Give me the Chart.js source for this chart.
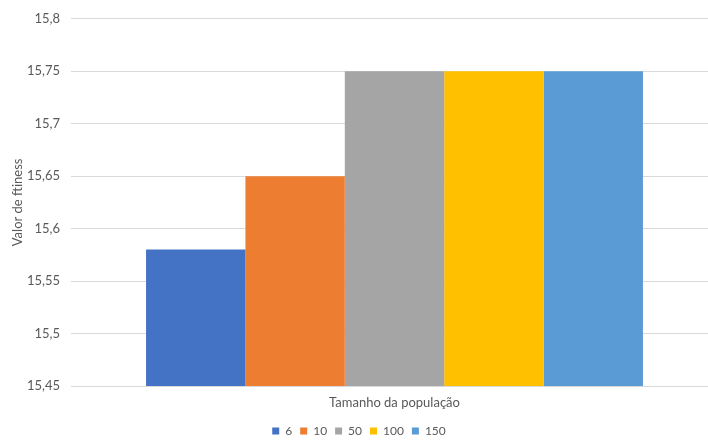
<!DOCTYPE html>
<html>
<head>
<meta charset="utf-8">
<script src="https://cdn.jsdelivr.net/npm/chart.js@4"></script>
<style>
  html, body { margin: 0; padding: 0; background: #fff; overflow: hidden; }
  #wrap { width: 708px; height: 440px; overflow: hidden; }
  canvas { display: block; }
</style>
</head>
<body>
<div id="wrap"><canvas id="c" width="718" height="440"></canvas></div>
<script>
// Population sizes (series) and the best fitness reached for each
const populationSizes = ['6', '10', '50', '100', '150'];
const fitnessValues = [15.58, 15.65, 15.75, 15.75, 15.75];
const seriesColors = ['#4472C4', '#ED7D31', '#A5A5A5', '#FFC000', '#5B9BD5'];
const yTickValues = [15.45, 15.5, 15.55, 15.6, 15.65, 15.7, 15.75, 15.8];
const categories = [''];

const textColor = '#595959';
const fontFamily = 'Lato, "Open Sans", sans-serif';

const datasets = populationSizes.map((name, i) => ({
  label: name,
  data: [fitnessValues[i]],
  backgroundColor: seriesColors[i],
  borderWidth: 0,
  barPercentage: 1.0,
  categoryPercentage: 0.768
}));

new Chart(document.getElementById('c'), {
  type: 'bar',
  data: { labels: categories, datasets },
  options: {
    responsive: false,
    animation: false,
    devicePixelRatio: 1,
    layout: { padding: { left: 0, right: 0, top: 10, bottom: -7 } },
    font: { family: fontFamily, size: 13 },
    plugins: {
      legend: {
        position: 'bottom',
        labels: {
          boxWidth: 7,
          boxHeight: 7,
          color: textColor,
          font: { family: fontFamily, size: 12 },
          padding: 8
        }
      },
      tooltip: { enabled: false }
    },
    scales: {
      x: {
        grid: { display: false, drawTicks: false },
        border: { display: false },
        ticks: { display: false },
        title: {
          display: true,
          text: 'Tamanho da população',
          color: textColor,
          font: { family: fontFamily, size: 13 },
          padding: { top: 4, bottom: 6 }
        },
        afterFit(scale) { scale.height = 31; }
      },
      y: {
        min: 15.45,
        max: 15.8,
        afterBuildTicks(scale) {
          scale.ticks = yTickValues.map(v => ({ value: v }));
        },
        grid: { color: '#D9D9D9', drawTicks: false, lineWidth: 1 },
        border: { display: false },
        ticks: {
          color: textColor,
          font: { family: fontFamily, size: 13 },
          padding: 11,
          callback: v => String(Number(v.toFixed(2))).replace('.', ',')
        },
        title: {
          display: true,
          text: 'Valor de ftiness',
          color: textColor,
          font: { family: fontFamily, size: 13 },
          padding: { top: 10, bottom: 0 }
        },
        afterFit(scale) { scale.width = 71; }
      }
    }
  }
});
</script>
</body>
</html>
